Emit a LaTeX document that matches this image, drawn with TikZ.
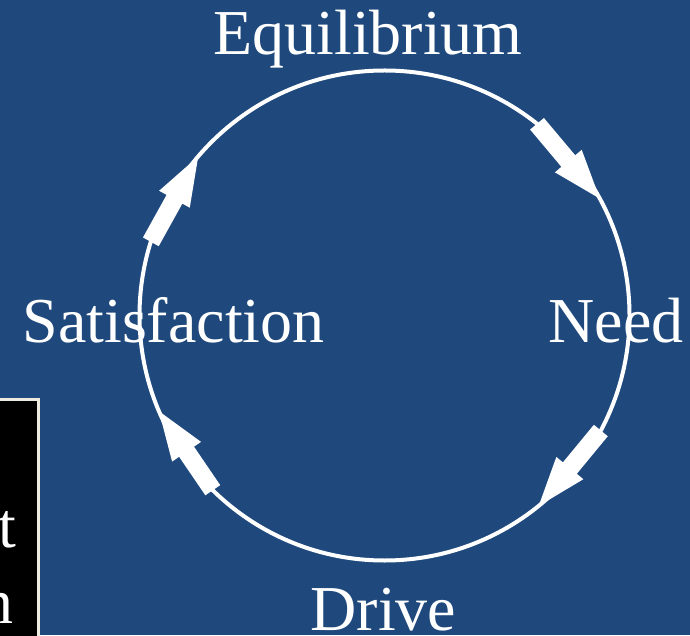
\documentclass[tikz,border=0pt]{standalone}
\usepackage{fontspec}
\setmainfont{Liberation Serif}
\usetikzlibrary{calc}
\definecolor{bgblue}{RGB}{31,73,125}
\definecolor{cream}{RGB}{238,236,225}
\tikzset{
  lbl/.style={text=white, inner sep=0pt, anchor=base, font=\fontsize{64}{76}\selectfont},
  ring/.style={draw=white, line width=4pt},
}
% block arrow along the ring: name, tail angle, tip angle
\newcommand\blockarrow[3]{%
  \coordinate (#1-t) at ($(C)+(#2:245pt)$);
  \coordinate (#1-p) at ($(C)+(#3:245pt)$);
  \coordinate (#1-b) at ($(#1-p)!49pt!(#1-t)$);
  \fill[white] ($(#1-t)!9pt!90:(#1-p)$) -- ($(#1-b)!9pt!-90:(#1-t)$) --
    ($(#1-b)!17.5pt!-90:(#1-t)$) -- (#1-p) -- ($(#1-b)!17.5pt!90:(#1-t)$) --
    ($(#1-b)!9pt!90:(#1-t)$) -- ($(#1-t)!9pt!-90:(#1-p)$) -- cycle;
}
\begin{document}
\begin{tikzpicture}[x=1pt,y=1pt]
\useasboundingbox (0,0) rectangle (690,635);
\clip (0,0) rectangle (690,635);
\fill[bgblue] (0,0) rectangle (690,635);
% black box at lower left
\fill[black] (-5,-5) rectangle (38.5,236);
\draw[cream, line width=3pt] (-5,236) -- (38.5,236) -- (38.5,-5);
\node[lbl, anchor=base east] (tline) at (16,88) {t};
\node[lbl, anchor=base east] (nline) at (13.5,12) {n};
% cycle
\coordinate (C) at (384.5,319.5);
\draw[ring] (C) circle[radius=245];
\node[lbl] (equil) at (368,580) {Equilibrium};
\node[lbl] (need) at (616,292) {Need};
\node[lbl] (drive) at (383.5,5) {Drive};
\node[lbl] (satis) at (173.5,292) {Satisfaction};
\blockarrow{a1}{51.5}{28.5}
\blockarrow{a2}{-28}{-51}
\blockarrow{a3}{225.5}{203}
\blockarrow{a4}{162.5}{139.5}
\end{tikzpicture}
\end{document}
